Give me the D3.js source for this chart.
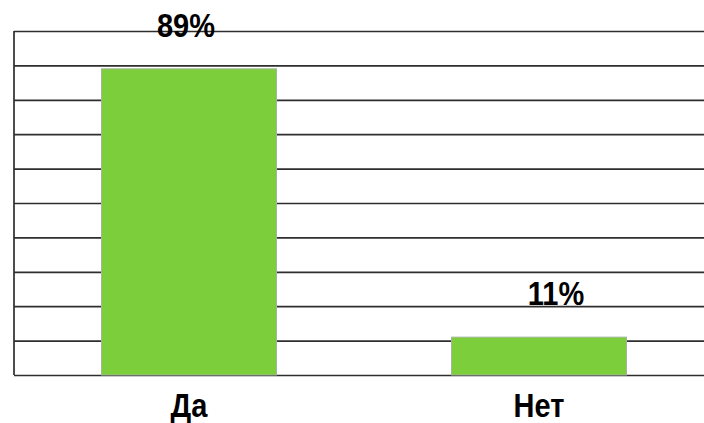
<!DOCTYPE html>
<html>
<head>
<meta charset="utf-8">
<script src="https://cdn.jsdelivr.net/npm/d3@7"></script>
<style>
  body { margin: 0; background: #fff; }
  .grid line { stroke: #2e2e2e; stroke-width: 1.7; }
  .grid path { display: none; }
  .lbl { font-family: "Liberation Sans", Arial, sans-serif; font-weight: bold; font-size: 29px; fill: #000; }
</style>
</head>
<body>
<div id="chart"></div>
<script>
var categories = ["Да", "Нет"];
var values = [89, 11];
var labels = ["89%", "11%"];
var gridTicks = [0, 10, 20, 30, 40, 50, 60, 70, 80, 90, 100];

var W = 704, H = 423;
var plotLeft = 14, plotTop = 31, plotBottom = 375, plotRight = 714;
// value labels are not exactly centred over the bars in the original
var labelShift = [-3, 17];

var svg = d3.select("#chart").append("svg")
    .attr("width", W)
    .attr("height", H);

var x = d3.scaleBand()
  .domain(categories)
  .range([plotLeft, plotRight])
  .paddingInner(0.5)
  .paddingOuter(0.25);

var y = d3.scaleLinear()
  .domain([0, 100])
  .range([plotBottom, plotTop]);

// gridlines
svg.append("g")
  .attr("class", "grid")
  .attr("transform", "translate(" + plotLeft + ",0)")
  .call(d3.axisLeft(y).tickValues(gridTicks).tickSize(-(plotRight - plotLeft)).tickFormat(""));

// left axis line
svg.append("line")
  .attr("x1", plotLeft).attr("x2", plotLeft)
  .attr("y1", y(100)).attr("y2", y(0))
  .style("stroke", "#2e2e2e")
  .style("stroke-width", 1.7);

// bars
svg.selectAll("rect.bar")
  .data(values)
  .enter().append("rect")
  .attr("class", "bar")
  .attr("x", function(d, i) { return x(categories[i]); })
  .attr("y", function(d) { return y(d); })
  .attr("width", x.bandwidth())
  .attr("height", function(d) { return y(0) - y(d); })
  .style("fill", "#7dce3b")
  .style("stroke", "#a3b59a")
  .style("stroke-width", 1);

// value labels
svg.selectAll("text.val")
  .data(values)
  .enter().append("text")
  .attr("class", "lbl val")
  .attr("text-anchor", "middle")
  .attr("transform", function(d, i) {
    return "translate(" + (x(categories[i]) + x.bandwidth() / 2 + labelShift[i]) + "," + (y(d) - 32) + ") scale(1,1.15)";
  })
  .text(function(d, i) { return labels[i]; });

// category labels
svg.selectAll("text.cat")
  .data(categories)
  .enter().append("text")
  .attr("class", "lbl cat")
  .attr("text-anchor", "middle")
  .attr("transform", function(d) {
    return "translate(" + (x(d) + x.bandwidth() / 2) + "," + (plotBottom + 42) + ") scale(1,1.15)";
  })
  .text(function(d) { return d; });
</script>
</body>
</html>
